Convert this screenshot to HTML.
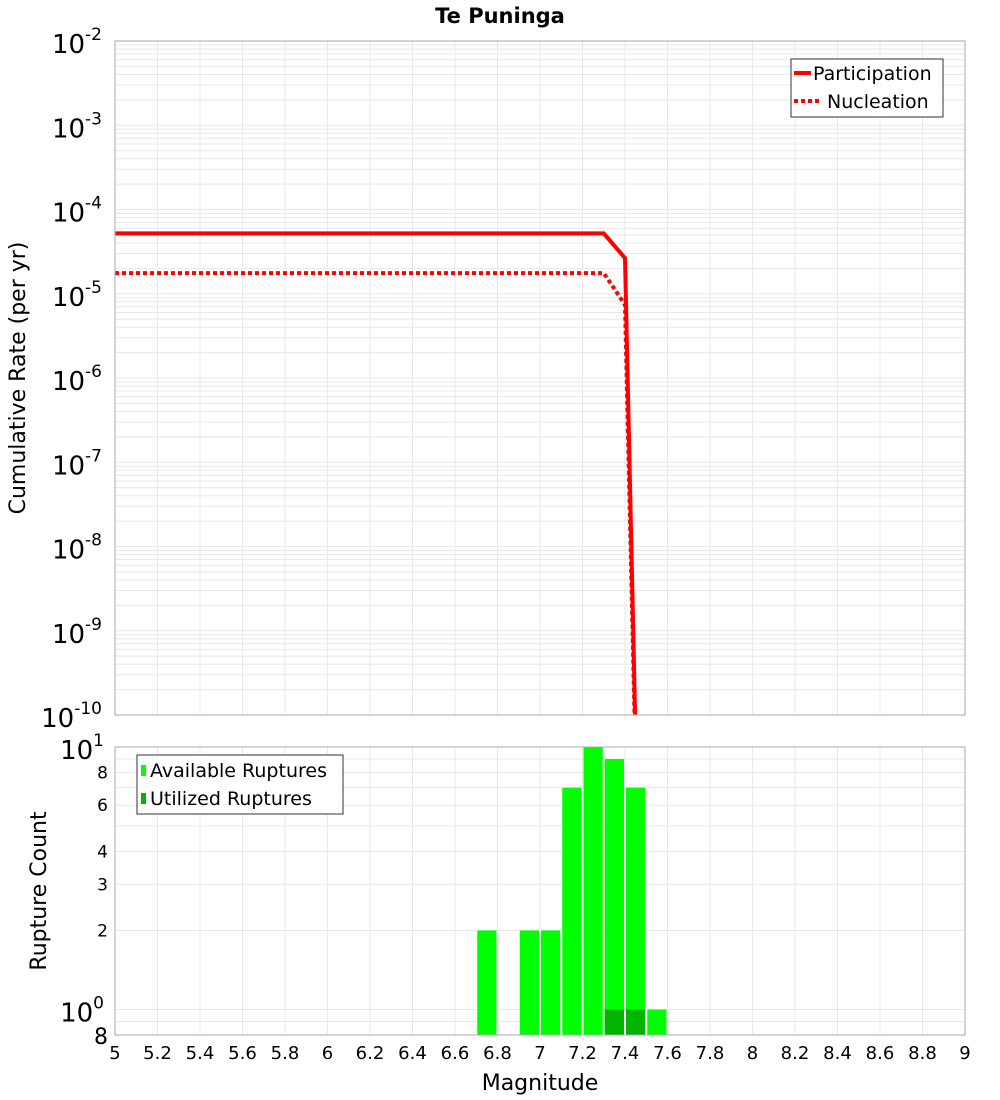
<!DOCTYPE html>
<html><head><meta charset="utf-8"><style>
html,body{margin:0;padding:0;background:#fff;overflow:hidden;width:1000px;height:1100px}
svg{display:block;font-family:"DejaVu Sans","Liberation Sans",sans-serif}
</style></head><body>
<svg id="c" width="1000" height="1100" xmlns="http://www.w3.org/2000/svg"></svg>
<script>
const partMags=[5,7.3,7.4,7.5];
const partRates=[5.2e-5,5.2e-5,2.65e-5,1e-16];
const nuclMags=[5,7.3,7.4,7.5];
const nuclRates=[1.76e-5,1.76e-5,7.4e-6,1e-16];
const binCenters=[6.75,6.95,7.05,7.15,7.25,7.35,7.45,7.55];
const availCounts=[2,2,2,7,10,9,7,1];
const utilCounts=[0,0,0,0,0,1,1,0];
const xTicks=[5,5.2,5.4,5.6,5.8,6,6.2,6.4,6.6,6.8,7,7.2,7.4,7.6,7.8,8,8.2,8.4,8.6,8.8,9];
const topExps=[-2,-3,-4,-5,-6,-7,-8,-9,-10];

const NS="http://www.w3.org/2000/svg",svg=document.getElementById('c');
function el(t,a,p){const e=document.createElementNS(NS,t);for(const k in a)e.setAttribute(k,a[k]);(p||svg).appendChild(e);return e;}
const X0=115,X1=965;
const xs=m=>X0+(m-5)/4*(X1-X0);
const T0=41,T1=715;
const yt=v=>T0+(-2-Math.log10(v))*(T1-T0)/8;
const B0=747,B1=1035;
const yb=v=>B0+(1-Math.log10(v))*262.5;

let t=el('text',{x:500,y:23,'text-anchor':'middle','font-size':21,'font-weight':'bold'});t.textContent='Te Puninga';


const gt=el('g',{stroke:'#e8e8e8','stroke-width':1});

for(let e=-10;e<-2;e++)for(let k=1;k<10;k++){const y=yt(k*Math.pow(10,e));el('line',{x1:X0,x2:X1,y1:y,y2:y},gt);}
xTicks.forEach(m=>el('line',{x1:xs(m),x2:xs(m),y1:T0,y2:T1},gt));
const gb=el('g',{stroke:'#e8e8e8','stroke-width':1});

[0.8,0.9,1,2,3,4,5,6,7,8,9,10].forEach(v=>{const y=yb(v);el('line',{x1:X0,x2:X1,y1:y,y2:y},gb);});
xTicks.forEach(m=>el('line',{x1:xs(m),x2:xs(m),y1:B0,y2:B1},gb));

const defs=el('defs',{});
const cp=el('clipPath',{id:'tc'},defs);el('rect',{x:X0,y:T0,width:X1-X0,height:T1-T0},cp);
const cp2=el('clipPath',{id:'bc'},defs);el('rect',{x:X0,y:B0,width:X1-X0,height:B1-B0},cp2);

function pts(ms,vs){return ms.map((m,i)=>xs(m)+','+yt(vs[i])).join(' ');}
let p=el('polyline',{points:pts(partMags,partRates),fill:'none',stroke:'#ff0000','stroke-width':4,'clip-path':'url(#tc)'});

p=el('polyline',{points:pts(nuclMags,nuclRates),fill:'none',stroke:'#ff0000','stroke-width':4,'stroke-dasharray':'4,3','clip-path':'url(#tc)'});


const bw=(X1-X0)/40;
binCenters.forEach((c,i)=>{
  const r=el('rect',{x:xs(c)-bw/2+1,y:yb(availCounts[i]),width:bw-2,height:B1-yb(availCounts[i]),fill:'#00ff00','clip-path':'url(#bc)'});
  
  if(utilCounts[i]>0){const u=el('rect',{x:xs(c)-bw/2+1,y:yb(utilCounts[i]),width:bw-2,height:B1-yb(utilCounts[i]),fill:'#00b400','clip-path':'url(#bc)'});
  }
});

el('rect',{x:X0,y:T0,width:X1-X0,height:T1-T0,fill:'none',stroke:'#aaa'});
el('rect',{x:X0,y:B0,width:X1-X0,height:B1-B0,fill:'none',stroke:'#aaa'});

topExps.forEach(e=>{const y=yt(Math.pow(10,e));
  const tx=el('text',{x:102,y:y+12,'text-anchor':'end','font-size':26});
  tx.innerHTML='10<tspan dy="-13" font-size="17">'+e+'</tspan>';
  });
[[10,'1'],[1,'0']].forEach(([v,s])=>{const tx=el('text',{x:104,y:yb(v)+12,'text-anchor':'end','font-size':26});
  tx.innerHTML='10<tspan dy="-13" font-size="17">'+s+'</tspan>';
  });
[8,6,4,3,2].forEach(v=>{const tx=el('text',{x:108,y:yb(v)+6,'text-anchor':'end','font-size':17});tx.textContent=v;
  });
let t8=el('text',{x:108,y:1044,'text-anchor':'end','font-size':22});t8.textContent='8';


xTicks.forEach(m=>{const tx=el('text',{x:xs(m),y:1059,'text-anchor':'middle','font-size':18});tx.textContent=String(m);
  });
t=el('text',{x:540,y:1090,'text-anchor':'middle','font-size':22});t.textContent='Magnitude';

t=el('text',{x:0,y:0,'text-anchor':'middle','font-size':22,transform:'translate(25,378) rotate(-90)'});t.textContent='Cumulative Rate (per yr)';

t=el('text',{x:0,y:0,'text-anchor':'middle','font-size':22,transform:'translate(46,891) rotate(-90)'});t.textContent='Rupture Count';


let lg=el('g',{});
el('rect',{x:791,y:59,width:152,height:58,fill:'#fff',stroke:'#333'},lg);
el('line',{x1:794,x2:811,y1:73,y2:73,stroke:'#f00','stroke-width':4},lg);
el('line',{x1:794,x2:822,y1:101,y2:101,stroke:'#f00','stroke-width':4,'stroke-dasharray':'4,3'},lg);
t=el('text',{x:813,y:80,'font-size':19},lg);t.textContent='Participation';
t=el('text',{x:827,y:108,'font-size':19},lg);t.textContent='Nucleation';
lg=el('g',{});
el('rect',{x:137,y:755,width:206,height:59,fill:'#fff',stroke:'#333'},lg);
el('rect',{x:141,y:765,width:5,height:11,fill:'#00ff00'},lg);
el('rect',{x:141,y:793,width:5,height:11,fill:'#00b400'},lg);
t=el('text',{x:150,y:777,'font-size':19},lg);t.textContent='Available Ruptures';
t=el('text',{x:150,y:805,'font-size':19},lg);t.textContent='Utilized Ruptures';
</script>
</body></html>
